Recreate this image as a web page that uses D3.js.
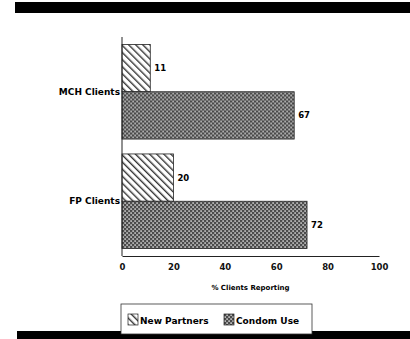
<!DOCTYPE html>
<html>
<head>
<meta charset="utf-8">
<script src="https://cdn.jsdelivr.net/npm/d3@7"></script>
<style>
  body { margin: 0; background: #fff; }
  svg { display: block; font-family: "DejaVu Sans", Arial, sans-serif; font-weight: bold; }
</style>
</head>
<body>
<svg></svg>
<script>
var categories = ["MCH Clients", "FP Clients"];
var seriesNames = ["New Partners", "Condom Use"];
var newPartners = [11, 20];
var condomUse = [67, 72];
var xTicks = [0, 20, 40, 60, 80, 100];

var width = 410, height = 339;
var svg = d3.select("svg").attr("width", width).attr("height", height);

var defs = svg.append("defs");
// diagonal hatch for new partners
var hatch = defs.append("pattern")
    .attr("id", "hatch")
    .attr("patternUnits", "userSpaceOnUse")
    .attr("width", 5).attr("height", 5)
    .attr("patternTransform", "rotate(-45)");
hatch.append("rect").attr("width", 5).attr("height", 5).attr("fill", "#fff");
hatch.append("rect").attr("x", 0).attr("width", 1.4).attr("height", 5).attr("fill", "#333");

// checker for condom use
var check = defs.append("pattern")
    .attr("id", "check")
    .attr("patternUnits", "userSpaceOnUse")
    .attr("width", 4).attr("height", 4);
check.append("rect").attr("width", 4).attr("height", 4).attr("fill", "#4a4a4a");
check.append("rect").attr("x", 0.3).attr("y", 0.3).attr("width", 1.6).attr("height", 1.6).attr("fill", "#d0d0d0");
check.append("rect").attr("x", 2.3).attr("y", 2.3).attr("width", 1.6).attr("height", 1.6).attr("fill", "#d0d0d0");

var fills = ["url(#hatch)", "url(#check)"];

// top and bottom rules
svg.append("rect").attr("x", 15).attr("y", 2).attr("width", width - 15).attr("height", 11).attr("fill", "#000");
svg.append("rect").attr("x", 17).attr("y", 331).attr("width", width - 17).attr("height", 8).attr("fill", "#000");

var x = d3.scaleLinear().domain([0, 100]).range([122, 379]);
var y0 = d3.scaleBand().domain(categories).range([37, 256])
    .paddingInner(0.136).paddingOuter(0.068);
var y1 = d3.scaleBand().domain(seriesNames).range([0, y0.bandwidth()]);

var rows = categories.map(function(c, i) {
  return { cat: c, values: [newPartners[i], condomUse[i]] };
});

var g = svg.selectAll(".grp")
    .data(rows)
  .enter().append("g")
    .attr("class", "grp")
    .attr("transform", function(d) { return "translate(0," + y0(d.cat) + ")"; });

g.selectAll("rect")
    .data(function(d) { return d.values.map(function(v, j) { return { s: seriesNames[j], v: v, j: j }; }); })
  .enter().append("rect")
    .attr("x", x(0))
    .attr("y", function(d) { return y1(d.s); })
    .attr("width", function(d) { return x(d.v) - x(0); })
    .attr("height", y1.bandwidth())
    .attr("fill", function(d) { return fills[d.j]; })
    .attr("stroke", "#222")
    .attr("stroke-width", 0.8);

g.selectAll(".val")
    .data(function(d) { return d.values.map(function(v, j) { return { s: seriesNames[j], v: v }; }); })
  .enter().append("text")
    .attr("x", function(d) { return x(d.v) + 4; })
    .attr("y", function(d) { return y1(d.s) + y1.bandwidth() / 2; })
    .attr("dy", "0.35em")
    .style("font-size", "8.5px")
    .text(function(d) { return d.v; });

// category labels sit at the boundary between the two bars
g.append("text")
    .attr("x", x(0) - 2)
    .attr("y", y1.bandwidth())
    .attr("dy", "0.35em")
    .attr("text-anchor", "end")
    .style("font-size", "9px")
    .text(function(d) { return d.cat; });

// y axis line
svg.append("line")
    .attr("x1", x(0)).attr("x2", x(0))
    .attr("y1", 37).attr("y2", 256)
    .attr("stroke", "#222").attr("stroke-width", 1);

// x axis (baseline + labels, no tick marks)
var xAxis = d3.axisBottom(x).tickValues(xTicks).tickSize(0).tickPadding(8);
var ax = svg.append("g")
    .attr("transform", "translate(0,256)")
    .call(xAxis);
ax.select(".domain").attr("stroke", "#222").attr("stroke-width", 1);
ax.selectAll("text")
    .style("font-family", "DejaVu Sans, Arial, sans-serif")
    .style("font-weight", "bold")
    .style("font-size", "8.5px")
    .attr("fill", "#111");

svg.append("text")
    .attr("x", (x(0) + x(100)) / 2)
    .attr("y", 290)
    .attr("text-anchor", "middle")
    .style("font-size", "7px")
    .text("% Clients Reporting");

// legend
var leg = svg.append("g");
leg.append("rect")
    .attr("x", 121).attr("y", 304).attr("width", 191).attr("height", 30)
    .attr("fill", "#fff").attr("stroke", "#333").attr("stroke-width", 0.8);

var legItems = [
  { name: seriesNames[0], fill: fills[0], x: 128 },
  { name: seriesNames[1], fill: fills[1], x: 224 }
];
legItems.forEach(function(d) {
  leg.append("rect")
      .attr("x", d.x).attr("y", 314).attr("width", 10).attr("height", 11)
      .attr("fill", d.fill).attr("stroke", "#222").attr("stroke-width", 0.7);
  leg.append("text")
      .attr("x", d.x + 12).attr("y", 324)
      .style("font-size", "9px")
      .text(d.name);
});
</script>
</body>
</html>
